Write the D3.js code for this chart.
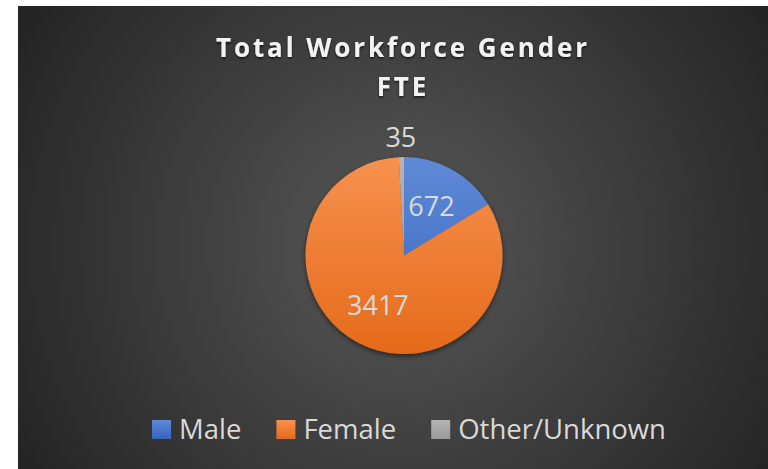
<!DOCTYPE html>
<html>
<head>
<meta charset="utf-8">
<script src="https://cdn.jsdelivr.net/npm/d3@7"></script>
<style>
  html, body { margin: 0; padding: 0; background: #ffffff; }
  svg { display: block; }
</style>
</head>
<body>
<div id="chart"></div>
<script>
// 数据
const categories = ["Male", "Female", "Other/Unknown"];
const values = [672, 3417, 35];
const titleLines = ["Total Workforce Gender", "FTE"];

// 颜色 (上 -> 下渐变)
const colorsTop = ["#5f8ad6", "#f7914f", "#b4b4b4"];
const colorsBottom = ["#3564c0", "#e56a1a", "#999999"];

const width = 768, height = 469;
const svg = d3.select("#chart").append("svg")
    .attr("width", width)
    .attr("height", height);

const defs = svg.append("defs");

// 背景径向渐变
const bg = defs.append("radialGradient")
    .attr("id", "bg")
    .attr("gradientUnits", "userSpaceOnUse")
    .attr("cx", 400).attr("cy", 245).attr("r", 430);
bg.append("stop").attr("offset", "0%").attr("stop-color", "#585858");
bg.append("stop").attr("offset", "100%").attr("stop-color", "#252525");

svg.append("rect")
    .attr("x", 18).attr("y", 6)
    .attr("width", width - 18).attr("height", height - 6)
    .attr("fill", "url(#bg)");

const cx = 404, cy = 255.5, radius = 98.5;

// 扇区渐变
categories.forEach((c, i) => {
    const g = defs.append("linearGradient")
        .attr("id", "grad" + i)
        .attr("gradientUnits", "userSpaceOnUse")
        .attr("x1", 0).attr("y1", -radius).attr("x2", 0).attr("y2", radius);
    g.append("stop").attr("offset", "0%").attr("stop-color", colorsTop[i]);
    g.append("stop").attr("offset", "100%").attr("stop-color", colorsBottom[i]);
});

const shadow = defs.append("filter").attr("id", "shadow")
    .attr("x", "-20%").attr("y", "-20%").attr("width", "140%").attr("height", "140%");
shadow.append("feDropShadow")
    .attr("dx", 0).attr("dy", 2).attr("stdDeviation", 2.5)
    .attr("flood-color", "#000").attr("flood-opacity", 0.55);

const textShadow = defs.append("filter").attr("id", "tshadow")
    .attr("x", "-10%").attr("y", "-30%").attr("width", "120%").attr("height", "160%");
textShadow.append("feDropShadow")
    .attr("dx", 0).attr("dy", 1.5).attr("stdDeviation", 1.2)
    .attr("flood-color", "#000").attr("flood-opacity", 0.7);

// 标题
const title = svg.append("text")
    .attr("x", 403)
    .attr("text-anchor", "middle")
    .attr("fill", "#f2f2f2")
    .attr("font-family", "'Open Sans', 'Noto Sans', sans-serif")
    .attr("font-weight", "bold")
    .attr("font-size", 26)
    .attr("letter-spacing", 2.9)
    .attr("filter", "url(#tshadow)");
titleLines.forEach((t, i) => {
    title.append("tspan")
        .attr("x", 403)
        .attr("y", 57 + i * 39)
        .text(t);
});

// 饼图
const pie = d3.pie().sort(null).value(d => d)(values);
const arc = d3.arc().innerRadius(0).outerRadius(radius);
const labelArc = d3.arc().innerRadius(56).outerRadius(56);
const outerArc = d3.arc().innerRadius(radius + 20).outerRadius(radius + 20);

const pieG = svg.append("g").attr("transform", `translate(${cx},${cy})`);

pieG.append("g").attr("filter", "url(#shadow)")
    .selectAll("path")
    .data(pie)
    .join("path")
    .attr("d", arc)
    .attr("fill", (d, i) => `url(#grad${i})`);

// 数据标签
pieG.selectAll("text.lbl")
    .data(pie)
    .join("text")
    .attr("class", "lbl")
    .attr("transform", d => {
        const small = (d.endAngle - d.startAngle) < 0.2;
        const p = small ? outerArc.centroid(d) : labelArc.centroid(d);
        return `translate(${p[0]},${p[1]})`;
    })
    .attr("dy", "0.36em")
    .attr("text-anchor", "middle")
    .attr("fill", "#d9d9d9")
    .attr("font-family", "'Open Sans', 'Noto Sans', sans-serif")
    .attr("font-size", 27)
    .text(d => d.data);

// 图例
categories.forEach((c, i) => {
    const g = defs.append("linearGradient")
        .attr("id", "lgrad" + i)
        .attr("x1", 0).attr("y1", 0).attr("x2", 0).attr("y2", 1);
    g.append("stop").attr("offset", "0%").attr("stop-color", colorsTop[i]);
    g.append("stop").attr("offset", "100%").attr("stop-color", colorsBottom[i]);
});

const legendG = svg.append("g").attr("transform", "translate(0,439)");
const items = legendG.selectAll("g")
    .data(categories)
    .join("g");
items.append("rect")
    .attr("y", -19)
    .attr("width", 19).attr("height", 19)
    .attr("fill", (d, i) => `url(#lgrad${i})`);
items.append("text")
    .attr("x", 27)
    .attr("fill", "#d9d9d9")
    .attr("font-family", "'Open Sans', 'Noto Sans', sans-serif")
    .attr("font-size", 27.5)
    .text(d => d);

// 居中排列图例
const gap = 35;
const widths = [];
items.each(function () {
    widths.push(27 + d3.select(this).select("text").node().getComputedTextLength());
});
const total = d3.sum(widths) + gap * (widths.length - 1);
let xPos = 409 - total / 2;
items.attr("transform", (d, i) => {
    const t = `translate(${xPos},0)`;
    xPos += widths[i] + gap;
    return t;
});
</script>
</body>
</html>
